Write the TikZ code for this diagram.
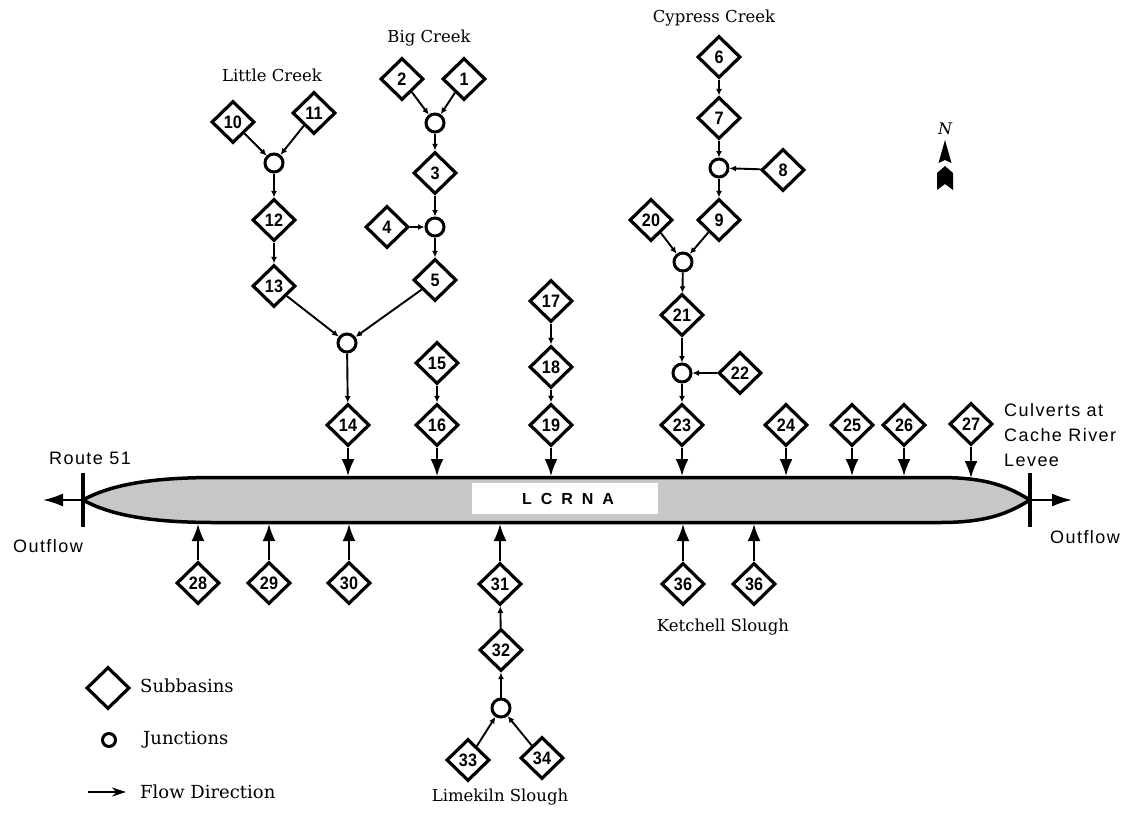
\documentclass[tikz,border=0pt]{standalone}
\usepackage{fontspec}
\setmainfont{DejaVu Serif}
\newfontfamily\numfont[FakeStretch=0.9]{Liberation Sans}
\newfontfamily\labsans[LetterSpace=8]{Liberation Sans}
\newfontfamily\plainsans{Liberation Sans}
\usetikzlibrary{shapes.geometric,arrows.meta}
\tikzset{
  sub/.style={diamond, draw, line width=3.2pt, minimum width=43pt, minimum height=42pt, inner sep=0pt,
    font=\numfont\bfseries\fontsize{18}{18}\selectfont},
  junc/.style={circle, draw, line width=3pt, minimum size=18pt, inner sep=0pt},
  flow/.style={-{Latex[length=6.5pt,width=6pt]}, line width=1.9pt},
  inflow/.style={-{Latex[length=17pt,width=13pt]}, line width=2pt},
  outarrow/.style={-{Latex[length=20pt,width=13pt]}, line width=2pt},
  seriflab/.style={font=\fontsize{16.5}{18}\selectfont, inner sep=0pt},
  legendlab/.style={font=\fontsize{18}{20}\selectfont, inner sep=0pt, anchor=west},
  sanslab/.style={font=\labsans\fontsize{18}{25}\selectfont, inner sep=0pt},
  tipbar/.style={line width=3.5pt}
}
\begin{document}
\begin{tikzpicture}[x=1pt,y=-1pt]
\useasboundingbox (0,0) rectangle (1127,815);

% ---- main channel (LCRNA) ----
\draw[line width=3.5pt, fill=black!22]
  (83,500) .. controls (110,485) and (150,477.5) .. (215,477.5)
  -- (940,477.5) .. controls (990,477.5) and (1010,488) .. (1030,500)
  .. controls (1010,512) and (990,522.5) .. (940,522.5)
  -- (215,522.5) .. controls (150,522.5) and (110,515) .. (83,500) -- cycle;
\fill[white] (472,483) rectangle (658,514);
\node[font=\plainsans\bfseries\fontsize{16}{16}\selectfont] (lcrna) at (568,499)
  {L\hspace{9pt}C\hspace{9pt}R\hspace{9pt}N\hspace{9pt}A};

\coordinate (L) at (83,500);
\coordinate (R) at (1030,500);
\coordinate (Lt) at (83,473); \coordinate (Lb) at (83,527);
\coordinate (Rt) at (1030,473); \coordinate (Rb) at (1030,527);
\coordinate (Lo) at (43,500);
\coordinate (Ro) at (1072,500);
\draw[tipbar] (Lt) -- (Lb);
\draw[tipbar] (Rt) -- (Rb);
\draw[outarrow] (L) -- (Lo);
\draw[outarrow] (R) -- (Ro);

\node[sanslab] (route) at (90,458) {Route 51};
\node[sanslab] (outl) at (48,546) {Outflow};
\node[sanslab] (outr) at (1085,537) {Outflow};
\node[sanslab, anchor=west, align=left] (culv) at (1004,435) {Culverts at\\Cache River\\Levee};

% ---- labels ----
\node[seriflab] (lc) at (272,75) {Little Creek};
\node[seriflab] (bc) at (429,38) {Big Creek};
\node[seriflab] (cc) at (714,18) {Cypress Creek};
\node[seriflab] (ks) at (723,627) {Ketchell Slough};
\node[seriflab] (ls) at (500,797) {Limekiln Slough};

% ---- Big Creek / Little Creek ----
\node[sub] (d1) at (464,79) {1};
\node[sub] (d2) at (402,79) {2};
\node[junc] (j1) at (435,123) {};
\node[sub] (d3) at (435,173) {3};
\node[junc] (j2) at (435,227) {};
\node[sub] (d4) at (387,227) {4};
\node[sub] (d5) at (435,280) {5};
\node[sub] (d10) at (233,122) {10};
\node[sub] (d11) at (314,113) {11};
\node[junc] (j3) at (274,163) {};
\node[sub] (d12) at (274,220) {12};
\node[sub] (d13) at (274,286) {13};
\node[junc] (j4) at (347,343) {};
\node[sub] (d14) at (348,425) {14};
\node[sub] (d15) at (437,363) {15};
\node[sub] (d16) at (437,425) {16};
\node[sub] (d17) at (551,301) {17};
\node[sub] (d18) at (551,367) {18};
\node[sub] (d19) at (551,425) {19};

% ---- Cypress Creek ----
\node[sub] (d6) at (719,57) {6};
\node[sub] (d7) at (719,118) {7};
\node[junc] (j5) at (719,168) {};
\node[sub] (d8) at (783,170) {8};
\node[sub] (d9) at (719,220) {9};
\node[sub] (d20) at (651,220) {20};
\node[junc] (j6) at (683,262) {};
\node[sub] (d21) at (682,315) {21};
\node[junc] (j7) at (682,373) {};
\node[sub] (d22) at (740,373) {22};
\node[sub] (d23) at (682,425) {23};
\node[sub] (d24) at (786,425) {24};
\node[sub] (d25) at (852,425) {25};
\node[sub] (d26) at (904,425) {26};
\node[sub] (d27) at (971,424) {27};

% ---- south side ----
\node[sub] (d28) at (198,583) {28};
\node[sub] (d29) at (269,583) {29};
\node[sub] (d30) at (349,583) {30};
\node[sub] (d31) at (500,584) {31};
\node[sub] (d32) at (501,650) {32};
\node[junc] (j8) at (501,708) {};
\node[sub] (d33) at (468,760) {33};
\node[sub] (d34) at (542,758) {34};
\node[sub] (d35) at (683,584) {36};
\node[sub] (d36) at (754,584) {36};

% ---- bar attachment points ----
\coordinate (t14) at (348,476);
\coordinate (t16) at (437,476);
\coordinate (t19) at (551,476);
\coordinate (t23) at (682,476);
\coordinate (t24) at (786,476);
\coordinate (t25) at (852,476);
\coordinate (t26) at (904,476);
\coordinate (t27) at (971,478);
\coordinate (b28) at (198,524);
\coordinate (b29) at (269,524);
\coordinate (b30) at (349,524);
\coordinate (b31) at (500,524);
\coordinate (b35) at (683,524);
\coordinate (b36) at (754,524);

% ---- connectors ----
\draw[flow] (d2) -- (j1);
\draw[flow] (d1) -- (j1);
\draw[flow] (j1) -- (d3);
\draw[flow] (d3) -- (j2);
\draw[flow] (d4) -- (j2);
\draw[flow] (j2) -- (d5);
\draw[flow] (d5) -- (j4);
\draw[flow] (d10) -- (j3);
\draw[flow] (d11) -- (j3);
\draw[flow] (j3) -- (d12);
\draw[flow] (d12) -- (d13);
\draw[flow] (d13) -- (j4);
\draw[flow] (j4) -- (d14);
\draw[flow] (d15) -- (d16);
\draw[flow] (d17) -- (d18);
\draw[flow] (d18) -- (d19);
\draw[flow] (d6) -- (d7);
\draw[flow] (d7) -- (j5);
\draw[flow] (d8) -- (j5);
\draw[flow] (j5) -- (d9);
\draw[flow] (d9) -- (j6);
\draw[flow] (d20) -- (j6);
\draw[flow] (j6) -- (d21);
\draw[flow] (d21) -- (j7);
\draw[flow] (d22) -- (j7);
\draw[flow] (j7) -- (d23);
\draw[flow] (d33) -- (j8);
\draw[flow] (d34) -- (j8);
\draw[flow] (j8) -- (d32);
\draw[flow] (d32) -- (d31);

\draw[inflow] (d14) -- (t14);
\draw[inflow] (d16) -- (t16);
\draw[inflow] (d19) -- (t19);
\draw[inflow] (d23) -- (t23);
\draw[inflow] (d24) -- (t24);
\draw[inflow] (d25) -- (t25);
\draw[inflow] (d26) -- (t26);
\draw[inflow] (d27) -- (t27);
\draw[inflow] (d28) -- (b28);
\draw[inflow] (d29) -- (b29);
\draw[inflow] (d30) -- (b30);
\draw[inflow] (d31) -- (b31);
\draw[inflow] (d35) -- (b35);
\draw[inflow] (d36) -- (b36);

% ---- north arrow ----
\node[font=\itshape\fontsize{16}{16}\selectfont, inner sep=0pt] (north) at (945,129) {N};
\fill (945,140) -- (951.5,163) -- (945,160) -- (938.5,163) -- cycle;
\fill (945,166) -- (953,173) -- (953,190) -- (945,184) -- (937,190) -- (937,173) -- cycle;

% ---- legend ----
\node[sub] (lgd) at (108,688) {};
\node[legendlab] (lgdt) at (140,686) {Subbasins};
\node[junc, minimum size=13pt] (lgj) at (109,740) {};
\node[legendlab] (lgjt) at (143,740) {Junctions};
\coordinate (lga) at (88,792);
\coordinate (lgb) at (126,792);
\draw[-{Stealth[length=14pt,width=9pt]}, line width=1.8pt] (lga) -- (lgb);
\node[legendlab] (lgft) at (140,792) {Flow Direction};
\end{tikzpicture}
\end{document}
